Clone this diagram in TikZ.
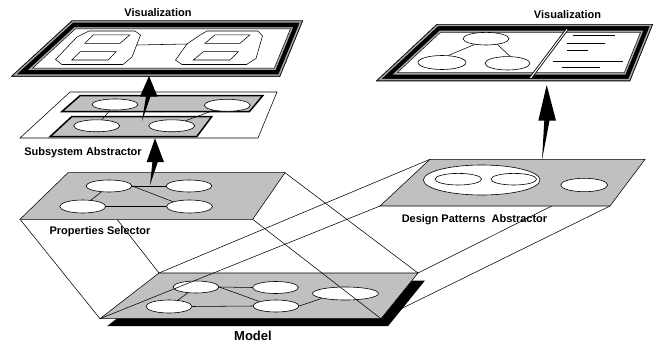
\documentclass[tikz,border=0pt]{standalone}
\usepackage{fontspec}
\setmainfont{Liberation Sans}
\usetikzlibrary{shapes.geometric,calc}
\definecolor{planegray}{RGB}{192,192,192}
\definecolor{frgray}{RGB}{165,165,165}
\newcommand\myframe[4]{%
  \fill[white] (#1)--(#2)--(#3)--(#4)--cycle;
  \begin{scope}
    \clip (#1)--(#2)--(#3)--(#4)--cycle;
    \draw[black,line width=17.4pt] (#1)--(#2)--(#3)--(#4)--cycle;
    \draw[frgray,line width=16.2pt] (#1)--(#2)--(#3)--(#4)--cycle;
    \draw[black,line width=13pt] (#1)--(#2)--(#3)--(#4)--cycle;
    \draw[frgray,line width=4.4pt] (#1)--(#2)--(#3)--(#4)--cycle;
    \draw[black,line width=1.2pt] (#1)--(#2)--(#3)--(#4)--cycle;
  \end{scope}}
\begin{document}
\begin{tikzpicture}[x=1pt,y=-1pt,
  ell/.style={ellipse, draw, fill=white, line width=0.6pt, inner sep=0pt,
              minimum width=46pt, minimum height=12pt},
  thinln/.style={line width=0.55pt},
  graypl/.style={fill=planegray, draw=black, line width=0.55pt},
  subpl/.style={fill=planegray, draw=black, line width=1.5pt},
  whitepl/.style={fill=white, draw=black, line width=0.55pt},
  lbl/.style={font=\bfseries\fontsize{11}{13}\selectfont, inner sep=0pt, anchor=base},
  wedge/.style={fill=black},
  txtln/.style={line width=0.6pt},
]
\useasboundingbox (0,0) rectangle (654,343);
% ---------- corner coordinates ----------
\coordinate (mTL) at (159,273);   \coordinate (mTR) at (418,273);
\coordinate (mBR) at (381,318.7); \coordinate (mBL) at (100,318.7);
\coordinate (pTL) at (68,172.7);  \coordinate (pTR) at (285,172.7);
\coordinate (pBR) at (252.7,219.3); \coordinate (pBL) at (20,219.3);
\coordinate (pX) at (117,219.3);
\coordinate (dTL) at (430,159.3); \coordinate (dTR) at (645,159.3);
\coordinate (dBR) at (610,206);   \coordinate (dBL) at (380,206);
\coordinate (sTL) at (70,92);     \coordinate (sTR) at (277,92);
\coordinate (sBR) at (258,138);   \coordinate (sBL) at (20,138);
\coordinate (uTL) at (80,95.7);   \coordinate (uTR) at (262.7,95.7);
\coordinate (uBR) at (249.3,111.7); \coordinate (uBL) at (61.7,111.7);
\coordinate (lTL) at (71.7,116.7); \coordinate (lTR) at (211.7,116.7);
\coordinate (lBR) at (196.7,136.7); \coordinate (lBL) at (50,136.7);
\coordinate (vTL) at (72,20.5);   \coordinate (vTR) at (303,20.5);
\coordinate (vBR) at (280,76.5);  \coordinate (vBL) at (11,76.5);
\coordinate (wTL) at (437,24);    \coordinate (wTR) at (653,24);
\coordinate (wBR) at (630,81);    \coordinate (wBL) at (376,81);
% ---------- lines partly hidden ----------
\draw[thinln] (mBR) -- (dBR);
\draw[thinln] (mTR) -- (dTR);
% ---------- model ----------
\fill[black] ($(mTL)+(7,7.5)$) -- ($(mTR)+(7,7.5)$) -- ($(mBR)+(7,7.5)$) -- ($(mBL)+(7,7.5)$) -- cycle;
\filldraw[graypl] (mTL)--(mTR)--(mBR)--(mBL)--cycle;
\node[ell] (m1) at (196,287) {};
\node[ell] (m2) at (275.5,287.5) {};
\node[ell, minimum height=13pt] (m3) at (169,306.5) {};
\node[ell] (m4) at (276,306) {};
\node[ell, minimum width=66pt, minimum height=13pt] (m5) at (345.5,293.5) {};
\draw[thinln] (m1.east) -- (m2.west);
\draw[thinln] (m1.east) -- (m4.north west);
\draw[thinln] (m3) -- (m1);
\draw[thinln] (m3.east) -- (m4.west);
\draw[thinln] (m4.east) -- (m5.south west);
% ---------- projection lines ----------
\draw[thinln] (pX) -- (mTL);
\draw[thinln] (pBL) -- (mBL);
\draw[thinln] (pTR) -- (mTR);
\draw[thinln] (pBR) -- (mBR);
\draw[thinln] (mTL) -- (dTL);
\draw[thinln] (mBL) -- (dBL);
% ---------- properties selector ----------
\filldraw[graypl] (pTL)--(pTR)--(pBR)--(pBL)--cycle;
\node[ell] (p1) at (109,186) {};
\node[ell] (p2) at (189,186) {};
\node[ell, minimum height=13pt] (p3) at (82.7,206.5) {};
\node[ell, minimum height=13pt] (p4) at (189.5,206.5) {};
\draw[thinln] (p1.east) -- (p2.west);
\draw[thinln] (p1.east) -- (p4.north west);
\draw[thinln] (p3) -- (p1);
\draw[thinln] (p3.east) -- (p4.west);
% ---------- design patterns abstractor ----------
\filldraw[graypl] (dTL)--(dTR)--(dBR)--(dBL)--cycle;
\node[ell, minimum width=116.6pt, minimum height=30pt] (d0) at (481.7,180) {};
\node[ell, minimum width=46.6pt, minimum height=11.6pt] (d1) at (458.3,179.2) {};
\node[ell, minimum width=45.6pt, minimum height=11.6pt] (d2) at (513.8,179.2) {};
\node[ell, minimum width=47pt, minimum height=13.4pt] (d3) at (584.2,185) {};
% ---------- subsystem abstractor ----------
\filldraw[whitepl] (sTL)--(sTR)--(sBR)--(sBL)--cycle;
\filldraw[subpl] (uTL)--(uTR)--(uBR)--(uBL)--cycle;
\node[ell, minimum height=11pt] (s1) at (115,104.5) {};
\node[ell] (s2) at (227.3,105.3) {};
\filldraw[subpl] (lTL)--(lTR)--(lBR)--(lBL)--cycle;
\node[ell] (s3) at (96.7,125.8) {};
\node[ell] (s4) at (171.7,125.8) {};
\draw[thinln] (s1) -- (s3);
\draw[thinln] (s2) -- (s4);
% ---------- arrows ----------
\coordinate (a2s) at (150,185);   \coordinate (a2t) at (155,138.3);
\fill[wedge] (a2s) -- ($(a2t)+(2.8,23.7)$) -- ($(a2t)+(9,23.7)$) -- (a2t)
   -- ($(a2t)+(-8.3,23.7)$) -- ($(a2t)+(-2.6,23.7)$) -- cycle;
\coordinate (a1s) at (142,121);   \coordinate (a1t) at (149,76);
\fill[wedge] (a1s) -- ($(a1t)+(1.5,20.5)$) -- ($(a1t)+(8.5,20.5)$) -- (a1t)
   -- ($(a1t)+(-9,20.5)$) -- ($(a1t)+(-3,20.5)$) -- cycle;
\coordinate (a3s) at (542,160);   \coordinate (a3t) at (546.7,85);
\fill[wedge] (a3s) -- ($(a3t)+(2.8,35.7)$) -- ($(a3t)+(9.3,35.7)$) -- (a3t)
   -- ($(a3t)+(-8.4,35.7)$) -- ($(a3t)+(-2.4,35.7)$) -- cycle;
% ---------- left visualization ----------
\myframe{vTL}{vTR}{vBR}{vBL}
\draw[thinln] (89,31) -- (135,31) -- (140.5,35) -- (132,57) -- (123,64.5) -- (62,64.5) -- (55.5,59.5) -- (77,37) -- cycle;
\draw[thinln] (93.3,34.8) -- (130,34.8) -- (120,43.3) -- (85,43.3) -- cycle;
\draw[thinln] (80,51.7) -- (116,51.7) -- (108.3,60) -- (71.7,60) -- cycle;
\draw[thinln] (207,31) -- (258,31) -- (262.5,36) -- (256,58.5) -- (246.5,64.5) -- (182,64.5) -- (175.5,60) -- (187,44) -- (198.5,36) -- cycle;
\draw[thinln] (215,34.8) -- (250,34.8) -- (240,43.3) -- (205,43.3) -- cycle;
\draw[thinln] (203.3,51.7) -- (238.3,51.7) -- (230,60) -- (193.3,60) -- cycle;
\coordinate (oL) at (136.8,45);   \coordinate (oR) at (187,44);
\draw[thinln] (oL) -- (oR);
% ---------- right visualization ----------
\myframe{wTL}{wTR}{wBR}{wBL}
\node[ell, minimum height=12.6pt] (t1) at (486,38.7) {};
\node[ell, minimum width=48pt, minimum height=14pt] (t2) at (442,62.5) {};
\node[ell, minimum width=45pt, minimum height=13.4pt] (t3) at (507.5,63.3) {};
\draw[thinln] (t1.-153) -- (t2.48);
\draw[thinln] (t1.-27) -- (t3.69);
\coordinate (dv1) at (567,29.5);  \coordinate (dv2) at (530.5,78);
\draw[black, line width=2.8pt] (dv1) -- (dv2);
\draw[white, line width=1.1pt] (dv1) -- (dv2);
\draw[txtln] (573.3,35.7) -- (615,35.7);
\draw[txtln] (567.3,43.7) -- (605,43.7);
\draw[txtln] (567.3,50.7) -- (588.3,50.7);
\draw[txtln] (552.7,61) -- (623.3,61);
\draw[txtln] (561.7,67.7) -- (600,67.7);
% ---------- labels ----------
\node[lbl] (lv1) at (158,16.7) {Visualization};
\node[lbl] (lv2) at (567.5,18.3) {Visualization};
\node[lbl] (lsa) at (83,155) {Subsystem Abstractor};
\node[lbl] (lps) at (100,234) {Properties Selector};
\node[lbl] (ldp) at (474.5,222.7) {Design Patterns\ \ Abstractor};
\node[lbl, font=\bfseries\fontsize{13}{15}\selectfont] (lm) at (253,340.8) {Model};
\end{tikzpicture}
\end{document}
